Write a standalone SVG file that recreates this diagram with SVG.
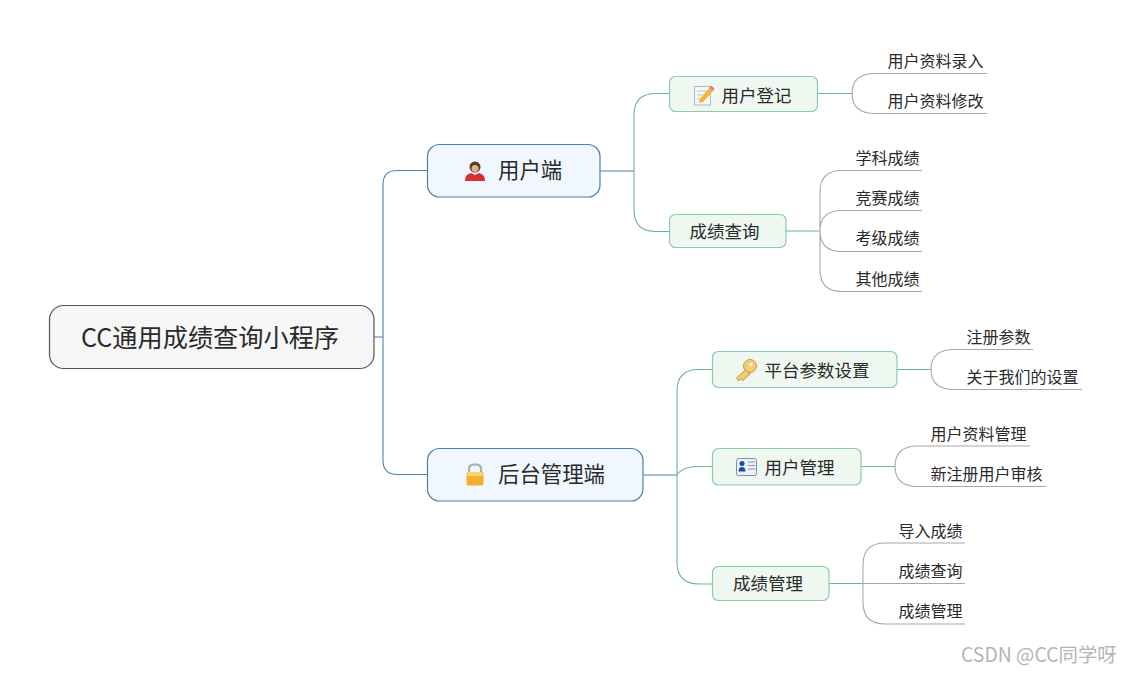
<svg xmlns="http://www.w3.org/2000/svg" width="1131" height="673" viewBox="0 0 1131 673">
<style>
text{font-family:"Noto Sans CJK SC","Noto Sans",sans-serif;fill:#2a2a2a}
.c{fill:none;stroke-width:1.1}
.b{stroke:#4a82b4}
.g{stroke:#70b398}
.l{stroke:#a8a8a8}
.n1{fill:#f0f7fe;stroke:#4d80ae;stroke-width:1.2}
.n2{fill:#eff7f1;stroke:#8ccaaa;stroke-width:1.2}
.t0{font-size:25.200px}
.t1{font-size:21.400px}
.t2{font-size:17.500px}
.t3{font-size:16px}
</style>
<rect width="1131" height="673" fill="#fff"/>
<g id="connectors">
<path class="c b" d="M374 337H383M427.500 170.500H397Q383 170.500 383 184.500V460Q383 474.500 397 474.500H427.500"/>
<path class="c b" d="M600 171H634M643 475H677"/>
<path class="c g" d="M669 93.500H656Q634 93.500 634 115V210Q634 231.500 656 231.500H669"/>
<path class="c g" d="M712 369.500H699Q677 369.500 677 391V562Q677 584 699 584H712M677 475Q682 466.500 699 466.500H712"/>
<path class="c g" d="M818 93.500H852M786 231H820M897 369.500H931M861 466.500H895M829 583.500H863"/>
<path class="c l" d="M987 73.500H875Q852 73.500 852 93.500Q852 113.500 875 113.500H987"/>
<path class="c l" d="M922 170.500H842Q820 170.500 820 192V270Q820 291.500 842 291.500H922M922 210.500H842Q820 210.500 820 231Q820 251.500 842 251.500H922"/>
<path class="c l" d="M1033 349.500H954Q931 349.500 931 369.500Q931 389.500 954 389.500H1082"/>
<path class="c l" d="M1030 446H918Q895 446 895 466.500Q895 486.500 918 486.500H1046"/>
<path class="c l" d="M965 543H885Q863 543 863 565V602Q863 624 885 624H965M863 583.500H965"/>
</g>
<g id="root">
<rect x="49.500" y="305.500" width="324.500" height="63" rx="14" fill="#f6f6f6" stroke="#555" stroke-width="1.2"/>
<text class="t0" x="81" y="346.500">CC通用成绩查询小程序</text>
</g>
<g id="user-side">
<rect class="n1" x="427.500" y="144.500" width="172.500" height="52.500" rx="12"/>
<path d="M465 181Q465 174 471 173L475 175L479 173Q485 174 485 181Z" fill="#d9302c"/>
<circle cx="475" cy="167" r="5.500" fill="#5a3a22"/>
<circle cx="475" cy="168.500" r="3.500" fill="#e3b08d"/>
<text class="t1" x="498" y="178">用户端</text>
</g>
<g id="admin-side">
<rect class="n1" x="427.500" y="448.500" width="215.500" height="52.500" rx="12"/>
<path d="M469 473V468.500Q469 464.500 475 464.500Q481 464.500 481 468.500V473" fill="none" stroke="#a9adb0" stroke-width="2.200"/>
<rect x="466.500" y="472" width="17" height="13.500" rx="2" fill="#f0b030"/>
<rect x="466.500" y="472" width="17" height="4" rx="2" fill="#f8d470"/>
<text class="t1" x="498" y="482">后台管理端</text>
</g>
<g id="register">
<rect class="n2" x="669.500" y="76.500" width="148" height="35" rx="6"/>
<rect x="694.500" y="86.500" width="16" height="18.500" fill="#f4f6fa" stroke="#a9b8c8"/>
<path d="M697 91H707M697 95H705M697 99H703" stroke="#b8c4d0" fill="none"/>
<path d="M700 99L709 88L713 91L703 102L699 103Z" fill="#f2b632"/>
<path d="M709 88L711 85.500L714.500 88.500L713 91Z" fill="#e8788a"/>
<text class="t2" x="721.500" y="102">用户登记</text>
</g>
<g id="scores-query">
<rect class="n2" x="669.500" y="214.500" width="116.500" height="33" rx="6"/>
<text class="t2" x="689.500" y="237.500">成绩查询</text>
</g>
<g id="platform-settings">
<rect class="n2" x="712.500" y="351.500" width="184.500" height="36" rx="6"/>
<circle cx="750" cy="366" r="6.500" fill="#f0cc78" stroke="#c99a3a"/>
<path d="M745.500 370L736.500 378L738.500 381L741 379L743 380.500L750 374Z" fill="#f0cc78" stroke="#c99a3a"/>
<circle cx="751" cy="364.500" r="1.800" fill="#fff3d0"/>
<text class="t2" x="764.500" y="377">平台参数设置</text>
</g>
<g id="user-manage">
<rect class="n2" x="712.500" y="448.500" width="148.500" height="36.500" rx="6"/>
<rect x="736.500" y="458.500" width="20" height="17" rx="2" fill="#eef1f8" stroke="#7f8fb0"/>
<circle cx="742" cy="463.500" r="2.500" fill="#1c4a9c"/>
<path d="M738.500 471.500Q738.500 467 742 467Q745.500 467 745.500 471.500Z" fill="#1c4a9c"/>
<path d="M748 462H755M748 465.500H755M748 469H755" stroke="#8a93a8" fill="none"/>
<text class="t2" x="764.500" y="474">用户管理</text>
</g>
<g id="score-manage">
<rect class="n2" x="712.500" y="566.500" width="116.500" height="34" rx="6"/>
<text class="t2" x="733" y="590">成绩管理</text>
</g>
<g id="leaves">
<text class="t3" x="887.500" y="67">用户资料录入</text>
<text class="t3" x="887.500" y="107">用户资料修改</text>
<text class="t3" x="855.500" y="164">学科成绩</text>
<text class="t3" x="855.500" y="204">竞赛成绩</text>
<text class="t3" x="855.500" y="244">考级成绩</text>
<text class="t3" x="855.500" y="284.500">其他成绩</text>
<text class="t3" x="966.500" y="343">注册参数</text>
<text class="t3" x="966.500" y="383">关于我们的设置</text>
<text class="t3" x="930.500" y="440">用户资料管理</text>
<text class="t3" x="930.500" y="480">新注册用户审核</text>
<text class="t3" x="898.500" y="537">导入成绩</text>
<text class="t3" x="898.500" y="577">成绩查询</text>
<text class="t3" x="898.500" y="617">成绩管理</text>
</g>
<text x="961" y="662" font-size="19.400" style="fill:#b4b4b4">CSDN @CC同学呀</text>
</svg>
